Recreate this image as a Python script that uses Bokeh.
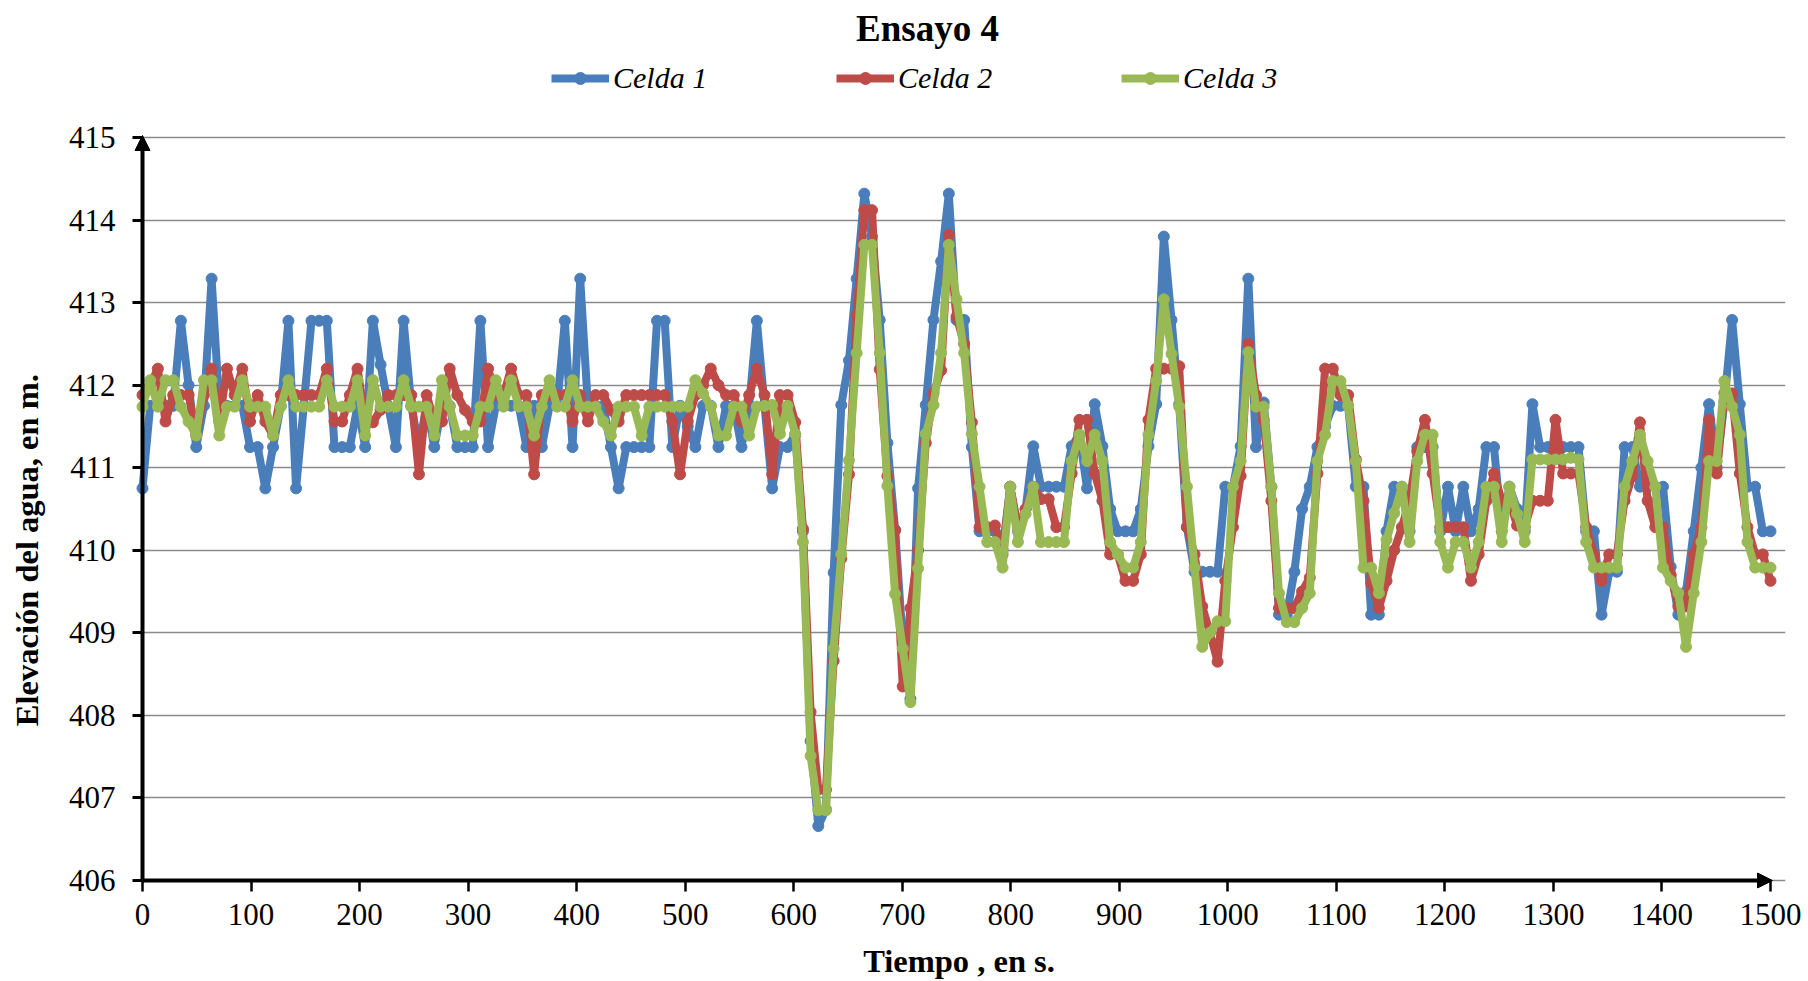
import math
from bokeh.plotting import figure
from bokeh.models import (Range1d, Legend, LegendItem, Arrow, NormalHead,
                          FixedTicker, Label)
from bokeh.embed import file_html
from bokeh.resources import INLINE

# ---------------- data ----------------
celda_1 = [
    410.75, 411.75, 411.75, 411.75, 411.75, 412.78, 412.0, 411.25, 411.75, 413.29,
    411.75, 411.75, 411.75, 411.75, 411.25, 411.25, 410.75, 411.25, 411.75, 412.78,
    410.75, 411.75, 412.78, 412.78, 412.78, 411.25, 411.25, 411.25, 411.75, 411.25,
    412.78, 412.25, 411.75, 411.25, 412.78, 411.75, 411.25, 411.75, 411.25, 411.75,
    411.75, 411.25, 411.25, 411.25, 412.78, 411.25, 411.75, 411.75, 411.75, 411.75,
    411.25, 411.75, 411.25, 411.75, 411.75, 412.78, 411.25, 413.29, 411.75, 411.75,
    411.75, 411.25, 410.75, 411.25, 411.25, 411.25, 411.25, 412.78, 412.78, 411.25,
    411.75, 411.5, 411.25, 411.75, 411.75, 411.25, 411.75, 411.75, 411.25, 411.75,
    412.78, 411.75, 410.75, 411.25, 411.25, 411.40, 410.23, 407.69, 406.66, 406.86,
    409.73, 411.76, 412.3, 413.29, 414.32, 413.8, 412.79, 411.3, 410.25, 408.9,
    408.2, 410.75, 411.76, 412.79, 413.5, 414.32, 412.79, 412.79, 411.25, 410.23,
    410.23, 410.23, 410.0, 410.77, 410.23, 410.5, 411.26, 410.77, 410.77, 410.77,
    410.77, 411.26, 411.4, 410.75, 411.77, 411.26, 410.5, 410.23, 410.23, 410.23,
    410.5, 411.26, 411.77, 413.8, 412.79, 411.77, 410.28, 409.74, 409.74, 409.74,
    409.74, 410.77, 410.77, 411.26, 413.29, 411.25, 411.79, 410.77, 409.22, 409.22,
    409.74, 410.5, 410.77, 411.25, 411.5, 411.75, 411.75, 411.75, 410.77, 410.77,
    409.22, 409.22, 410.23, 410.77, 410.77, 410.23, 411.25, 411.25, 411.25, 410.23,
    410.77, 410.23, 410.77, 410.23, 410.5, 411.25, 411.25, 410.23, 410.77, 410.5,
    410.23, 411.77, 411.25, 411.25, 411.25, 411.25, 411.25, 411.25, 410.23, 410.23,
    409.22, 409.74, 409.74, 411.25, 411.25, 410.77, 410.77, 410.77, 410.77, 409.8,
    409.22, 409.5, 410.23, 411.0, 411.77, 411.0, 411.8, 412.79, 411.77, 410.77,
    410.77, 410.23, 410.23,
]

celda_2 = [
    411.88, 412.0, 412.2, 411.56, 411.88, 411.88, 411.88, 411.39, 411.88, 412.2,
    411.56, 412.2, 411.88, 412.2, 411.56, 411.88, 411.56, 411.39, 411.88, 411.88,
    411.88, 411.88, 411.88, 411.88, 412.2, 411.56, 411.56, 411.88, 412.2, 411.56,
    411.55, 411.7, 411.88, 411.88, 411.88, 411.88, 410.92, 411.88, 411.56, 411.56,
    412.2, 411.88, 411.7, 411.56, 411.56, 412.2, 411.88, 411.88, 412.2, 411.88,
    411.88, 410.92, 411.88, 411.88, 411.88, 411.88, 411.56, 411.88, 411.56, 411.88,
    411.88, 411.7, 411.56, 411.88, 411.88, 411.88, 411.88, 411.88, 411.88, 411.56,
    410.92, 411.56, 411.88, 412.0, 412.2, 412.0, 411.88, 411.88, 411.56, 411.88,
    412.2, 411.88, 410.92, 411.88, 411.88, 411.55, 410.26, 408.04, 407.1, 407.1,
    408.66, 409.9, 410.92, 412.85, 414.12, 414.12, 412.19, 410.9, 410.24, 408.35,
    409.3, 410.0, 411.3, 411.9, 412.18, 413.82, 412.83, 412.5, 411.55, 410.28,
    410.28, 410.30, 409.95, 410.77, 410.28, 410.5, 410.77, 410.62, 410.62, 410.28,
    410.28, 410.93, 411.58, 411.58, 410.93, 410.6, 409.95, 409.95, 409.63, 409.63,
    409.95, 411.58, 412.2, 412.2, 412.2, 412.23, 410.28, 409.95, 409.32, 409.0,
    408.65, 409.63, 410.28, 410.9, 412.5, 411.88, 411.58, 410.6, 409.3, 409.3,
    409.3, 409.5, 409.67, 410.93, 412.2, 412.2, 411.88, 411.88, 411.1, 410.6,
    409.6, 409.3, 409.63, 410.0, 410.28, 410.6, 411.2, 411.58, 410.93, 410.28,
    410.28, 410.28, 410.28, 409.63, 409.95, 410.6, 410.93, 410.6, 410.6, 410.3,
    410.28, 410.6, 410.6, 410.6, 411.58, 410.93, 410.93, 410.93, 410.28, 409.95,
    409.63, 409.95, 409.95, 410.6, 410.9, 411.55, 410.6, 410.28, 410.28, 409.7,
    409.32, 409.32, 409.95, 410.28, 411.58, 410.93, 411.9, 411.9, 410.93, 410.28,
    409.95, 409.95, 409.63,
]

celda_3 = [
    411.74, 412.06, 411.74, 412.06, 412.06, 411.74, 411.56, 411.39, 412.06, 412.06,
    411.39, 411.74, 411.74, 412.06, 411.74, 411.74, 411.74, 411.39, 411.74, 412.06,
    411.74, 411.74, 411.74, 411.74, 412.06, 411.74, 411.74, 411.74, 412.06, 411.39,
    412.06, 411.74, 411.74, 411.74, 412.06, 411.74, 411.74, 411.74, 411.39, 412.06,
    411.74, 411.39, 411.39, 411.39, 411.74, 411.74, 412.06, 411.74, 412.06, 411.74,
    411.74, 411.39, 411.74, 412.06, 411.74, 411.74, 412.06, 411.74, 411.74, 411.74,
    411.56, 411.39, 411.74, 411.74, 411.74, 411.39, 411.74, 411.74, 411.74, 411.74,
    411.74, 411.74, 412.06, 411.9, 411.74, 411.39, 411.39, 411.74, 411.74, 411.39,
    411.74, 411.75, 411.76, 411.41, 411.75, 411.41, 410.10, 407.51, 406.85, 406.85,
    408.81, 409.95, 411.09, 412.39, 413.70, 413.70, 412.39, 410.78, 409.47, 408.81,
    408.16, 409.78, 411.41, 411.76, 412.39, 413.70, 413.04, 412.39, 411.41, 410.77,
    410.10, 410.10, 409.79, 410.77, 410.10, 410.44, 410.77, 410.10, 410.10, 410.10,
    410.10, 411.08, 411.40, 411.08, 411.40, 411.08, 410.10, 409.95, 409.79, 409.79,
    410.10, 411.40, 412.05, 413.04, 412.38, 411.74, 410.77, 409.79, 408.83, 409.0,
    409.14, 409.14, 410.77, 411.08, 412.40, 411.74, 411.74, 410.77, 409.48, 409.13,
    409.13, 409.3, 409.48, 411.08, 411.40, 412.05, 412.05, 411.75, 411.08, 409.79,
    409.79, 409.48, 410.13, 410.45, 410.77, 410.10, 411.08, 411.40, 411.40, 410.10,
    409.79, 410.10, 410.10, 409.79, 410.10, 410.77, 410.77, 410.10, 410.77, 410.44,
    410.10, 411.10, 411.10, 411.10, 411.10, 411.10, 411.12, 411.10, 410.10, 409.79,
    409.79, 409.79, 409.79, 410.77, 411.08, 411.40, 411.08, 410.77, 409.79, 409.63,
    409.48, 408.83, 409.48, 410.10, 411.08, 411.08, 412.05, 411.74, 411.40, 410.10,
    409.79, 409.79, 409.79,
]

# uniform sampling interval of the record (s)
paso = 1500 / 212
tiempo = [i * paso for i in range(len(celda_1))]

series_names = ["Celda 1", "Celda 2", "Celda 3"]
series_colors = ["#4A7EBB", "#BE4B48", "#98B954"]

x_ticks = list(range(0, 1501, 100))
y_ticks = list(range(406, 416))
x_min, x_max = 0, 1500
y_min, y_max = 406, 415

titulo = "Ensayo 4"
x_label = "Tiempo , en s."
y_label = "Elevación del agua, en m."

FONT = "Liberation Serif"

# ---------------- page geometry (pixels) ----------------
W, H = 1808, 981
AX_LEFT, AX_RIGHT, AX_TOP, AX_BOTTOM = 142, 1770, 137, 880   # plot area of the original
FR_LEFT, FR_RIGHT, FR_TOP, FR_BOTTOM = 132, 1785, 0, 888     # bokeh frame (a bit larger)
px_x = (AX_RIGHT - AX_LEFT) / (x_max - x_min)
px_y = (AX_BOTTOM - AX_TOP) / (y_max - y_min)
xr = Range1d(x_min - (AX_LEFT - FR_LEFT) / px_x, x_max + (FR_RIGHT - AX_RIGHT) / px_x)
yr = Range1d(y_min - (FR_BOTTOM - AX_BOTTOM) / px_y, y_max + (AX_TOP - FR_TOP) / px_y)

p = figure(width=W, height=H, output_backend="svg", toolbar_location=None,
           title=None, x_range=xr, y_range=yr,
           min_border_left=FR_LEFT, min_border_right=W - FR_RIGHT,
           min_border_top=FR_TOP, min_border_bottom=H - FR_BOTTOM)
p.outline_line_color = None
p.background_fill_color = "white"
p.border_fill_color = "white"

for ax in (p.xaxis[0], p.yaxis[0]):
    ax.axis_line_color = None
    ax.major_tick_line_color = "black"
    ax.minor_tick_line_color = None
    ax.major_label_text_font = FONT
    ax.major_label_text_font_size = "31px"
    ax.major_label_text_color = "black"
    ax.axis_label_text_font = FONT
    ax.axis_label_text_font_style = "bold"
    ax.axis_label_text_font_size = "32.5px"
    ax.axis_label_text_color = "black"

p.xaxis.bounds = (x_min, x_max)
p.yaxis.bounds = (y_min, y_max)
p.xaxis.ticker = FixedTicker(ticks=x_ticks)
p.yaxis.ticker = FixedTicker(ticks=y_ticks)
p.xaxis.major_tick_in = FR_BOTTOM - AX_BOTTOM
p.xaxis.major_tick_out = 3
p.xaxis.major_tick_line_width = 2.5
p.yaxis.major_tick_in = AX_LEFT - FR_LEFT
p.yaxis.major_tick_out = 0
p.yaxis.major_tick_line_width = 3
p.xaxis.major_label_standoff = 12
p.yaxis.major_label_standoff = 17
p.xaxis.axis_label = x_label
p.xaxis.axis_label_standoff = 15
# trailing no-break spaces shift the frame-centred label down to where the original has it
p.yaxis.axis_label = y_label + "\u00a0" * 26
p.yaxis.axis_label_standoff = 21

p.xgrid.grid_line_color = None
p.ygrid.grid_line_color = "#8A8A8A"
p.ygrid.grid_line_width = 1.6
p.ygrid.ticker = FixedTicker(ticks=y_ticks)
p.ygrid.bounds = (x_min, x_max)

# ---------------- axis lines with arrow heads ----------------
p.add_layout(Arrow(end=NormalHead(size=15, fill_color="black", line_color="black"),
                   x_start=x_min, y_start=y_min, x_end=x_min, y_end=y_max + 2 / px_y,
                   line_width=4, line_color="black"))

# ---------------- series ----------------
items = []
for name, color, vals in zip(series_names, series_colors, [celda_1, celda_2, celda_3]):
    ln = p.line(tiempo, vals, line_color=color, line_width=8, line_join="round")
    sc = p.scatter(tiempo, vals, size=11, marker="circle",
                   fill_color=color, line_color=color)
    items.append(LegendItem(label=name, renderers=[ln, sc]))

p.add_layout(Arrow(end=NormalHead(size=15, fill_color="black", line_color="black"),
                   x_start=x_min, y_start=y_min, x_end=x_max + 2 / px_x, y_end=y_min,
                   line_width=4, line_color="black"))

legend = Legend(items=items, orientation="horizontal",
                location=(551 - FR_LEFT, FR_BOTTOM - 95),
                glyph_width=58, glyph_height=30, label_height=30, label_width=179,
                label_standoff=4, spacing=44, padding=0, margin=0,
                border_line_color=None, background_fill_alpha=0,
                label_text_font=FONT, label_text_font_style="italic",
                label_text_font_size="30px", label_text_color="black")
p.add_layout(legend, "center")

p.add_layout(Label(x=927 - FR_LEFT, y=FR_BOTTOM - 28, x_units="screen", y_units="screen",
                   text=titulo, text_align="center", text_baseline="alphabetic",
                   text_font=FONT, text_font_style="bold", text_font_size="37px",
                   text_color="black"))

open("out.html", "w").write(file_html(p, INLINE))
